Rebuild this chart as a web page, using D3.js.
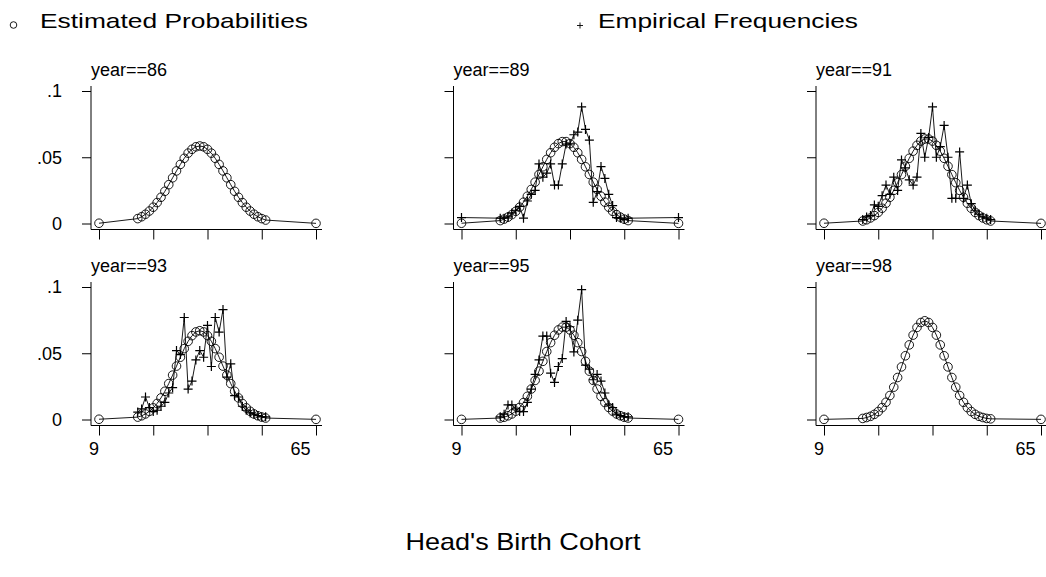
<!DOCTYPE html>
<html>
<head>
<meta charset="utf-8">
<script src="https://cdn.jsdelivr.net/npm/d3@7"></script>
<style>
  body { margin: 0; background: #fff; }
  text { font-family: Arial, "Liberation Sans", sans-serif; fill: #000; }
</style>
</head>
<body>
<svg id="chart" width="1046" height="577"></svg>
<script>
// Head's birth cohort (x) -- end points 9 and 65 are the pooled tails
const cohorts = [9, 19, 20, 21, 22, 23, 24, 25, 26, 27, 28, 29, 30, 31, 32, 33, 34, 35,
  36, 37, 38, 39, 40, 41, 42, 43, 44, 45, 46, 47, 48, 49, 50, 51, 52, 65];

const years = [86, 89, 91, 93, 95, 98];

// estimated probabilities, one list per survey year
const est86 = [0.0002, .0037, .0051, .0070, .0094, .0123, .0158, .0198, .0243, .0293, .0345, .0397, .0446, .0492, .0531, .0560, .0579, .0585,
  .0579, .0560, .0531, .0492, .0446, .0397, .0345, .0293, .0243, .0198, .0158, .0123, .0094, .0070, .0051, .0037, .0026, 0.0001];
const est89 = [0.0002, .0022, .0033, .0048, .0067, .0092, .0123, .0161, .0206, .0257, .0312, .0370, .0428, .0484, .0534, .0575, .0603, .0618,
  .0618, .0603, .0575, .0534, .0484, .0428, .0370, .0312, .0257, .0206, .0161, .0123, .0092, .0067, .0048, .0033, .0022, 0.0001];
const est91 = [0.0002, .0019, .0028, .0042, .0060, .0084, .0115, .0153, .0198, .0250, .0308, .0369, .0432, .0492, .0546, .0590, .0622, .0638,
  .0638, .0622, .0590, .0546, .0492, .0432, .0369, .0308, .0250, .0198, .0153, .0115, .0084, .0060, .0042, .0028, .0019, 0.0001];
const est93 = [0.0002, .0018, .0028, .0042, .0062, .0088, .0121, .0163, .0213, .0271, .0335, .0403, .0470, .0535, .0590, .0633, .0661, .0670,
  .0661, .0633, .0590, .0535, .0470, .0403, .0335, .0271, .0213, .0163, .0121, .0088, .0062, .0042, .0028, .0018, .0011, 0.0001];
const est95 = [0.0001, .0011, .0017, .0028, .0042, .0063, .0091, .0128, .0175, .0230, .0295, .0365, .0439, .0513, .0580, .0636, .0676, .0697,
  .0697, .0676, .0636, .0580, .0513, .0439, .0365, .0295, .0230, .0175, .0128, .0091, .0063, .0042, .0028, .0017, .0011, 0.0001];
const est98 = [0.0001, .0008, .0015, .0024, .0039, .0060, .0090, .0130, .0181, .0244, .0317, .0397, .0481, .0563, .0637, .0695, .0732, .0745,
  .0732, .0695, .0637, .0563, .0481, .0397, .0317, .0244, .0181, .0130, .0090, .0060, .0039, .0024, .0015, .0008, .0005, 0.0001];

// empirical frequencies (null = not observed)
const emp89 = [0.0045, .004, .004, .005, .008, .010, .013, .004, .017, .022, .025, .045, .035, .038, .045, .029, .029, .045,
  .060, .060, .067, .069, .088, .071, .063, .016, .024, .043, .034, .022, .0135, .0045, .004, .003, .004, 0.0045];
const emp91 = [null, .003, .005, .006, .014, .013, .021, .029, .022, .035, .025, .048, .042, .033, .029, .035, .068, .050,
  .065, .088, .050, .058, .074, .050, .019, .019, .054, .019, .029, .015, .010, .007, .005, .004, .003, null];
const emp93 = [null, .0056, .008, .017, .009, .006, .007, .010, .013, .020, .024, .052, .049, .077, .023, .029, .045, .052,
  .047, .071, .040, .077, .066, .083, .032, .042, .018, .017, .010, .007, .005, .004, .003, .002, .002, null];
const emp95 = [null, .002, .004, .011, .011, .008, .006, .006, .013, .023, .034, .045, .063, .063, .035, .028, .040, .046,
  .074, .070, .051, .075, .098, .041, .038, .030, .034, .029, .020, .011, .009, .004, .003, .002, .002, null];

const estimated = [est86, est89, est91, est93, est95, est98];
const empirical = [null, emp89, emp91, emp93, emp95, null];

const xTicks = [9, 23, 37, 51, 65];
const xTickLabels = ['9', '', '', '', '65'];
const yTicks = [0, 0.05, 0.1];
const yTickLabels = ['0', '.05', '.1'];

const svg = d3.select('#chart');

// legend
svg.append('circle').attr('cx', 13.5).attr('cy', 25).attr('r', 3.3)
  .style('fill', 'none').style('stroke', '#000').style('stroke-width', 0.9);
svg.append('text').attr('x', 40).attr('y', 28).style('font-size', '21px')
  .attr('textLength', 268).attr('lengthAdjust', 'spacingAndGlyphs')
  .text('Estimated Probabilities');
svg.append('path').attr('d', 'M577,25.5h6M580,22.5v6')
  .style('stroke', '#000').style('stroke-width', 0.9);
svg.append('text').attr('x', 598).attr('y', 28).style('font-size', '21px')
  .attr('textLength', 260).attr('lengthAdjust', 'spacingAndGlyphs')
  .text('Empirical Frequencies');

const colOffset = [0, 362.5, 725];
const rowOffset = [0, 196];

years.forEach((yr, i) => {
  const col = i % 3, row = Math.floor(i / 3);
  const x = d3.scaleLinear().domain([9, 65]).range([99 + colOffset[col], 316 + colOffset[col]]);
  const y = d3.scaleLinear().domain([0, 0.1]).range([223.5 + rowOffset[row], 91 + rowOffset[row]]);

  const g = svg.append('g');
  const axisX0 = x(9) - 8;   // y-axis line sits a bit left of the first point
  const axisY0 = y(0) + 6;   // x-axis line sits a bit below zero

  // panel title
  g.append('text').attr('x', axisX0).attr('y', y(0) - 147.5)
    .style('font-size', '18px').text('year==' + yr);

  // y axis
  const yAxis = d3.axisLeft(y).tickValues(yTicks).tickSize(9).tickSizeOuter(0).tickPadding(20)
    .tickFormat((d, k) => col === 0 ? yTickLabels[k] : '');
  const gy = g.append('g').attr('transform', `translate(${axisX0},0)`).call(yAxis);
  gy.select('.domain').remove();
  gy.selectAll('text').style('font-size', '18px').style('font-family', 'Arial, "Liberation Sans", sans-serif');
  g.append('line').attr('x1', axisX0).attr('x2', axisX0)
    .attr('y1', y(0.1) - 5).attr('y2', axisY0).style('stroke', '#000');

  // x axis
  const xAxis = d3.axisBottom(x).tickValues(xTicks).tickSize(10).tickSizeOuter(0).tickPadding(7)
    .tickFormat((d, k) => row === 1 ? xTickLabels[k] : '');
  const gx = g.append('g').attr('transform', `translate(0,${axisY0})`).call(xAxis);
  gx.select('.domain').remove();
  gx.selectAll('text').style('font-size', '18px').style('font-family', 'Arial, "Liberation Sans", sans-serif')
    .attr('dx', d => d === 9 ? -5.5 : -16);
  g.append('line').attr('x1', axisX0).attr('x2', x(65) + 6)
    .attr('y1', axisY0).attr('y2', axisY0).style('stroke', '#000');

  const line = d3.line().defined(d => d[1] != null).x(d => x(d[0])).y(d => y(d[1]));

  // estimated probabilities
  const est = cohorts.map((c, k) => [c, estimated[i][k]]);
  g.append('path').datum(est).attr('d', line)
    .style('fill', 'none').style('stroke', '#000').style('stroke-width', 0.9);
  g.selectAll('.est').data(est).enter().append('circle').attr('class', 'est')
    .attr('cx', d => x(d[0])).attr('cy', d => y(d[1])).attr('r', 4.3)
    .style('fill', 'none').style('stroke', '#000').style('stroke-width', 0.9);

  // empirical frequencies
  if (empirical[i]) {
    const emp = cohorts.map((c, k) => [c, empirical[i][k]]);
    g.append('path').datum(emp).attr('d', line)
      .style('fill', 'none').style('stroke', '#000').style('stroke-width', 0.9);
    g.selectAll('.emp').data(emp.filter(d => d[1] != null)).enter().append('path').attr('class', 'emp')
      .attr('d', d => `M${x(d[0]) - 4.5},${y(d[1])}h9M${x(d[0])},${y(d[1]) - 4.5}v9`)
      .style('stroke', '#000').style('stroke-width', 1.2);
  }
});

// x axis title
svg.append('text').attr('x', 523).attr('y', 550).attr('text-anchor', 'middle')
  .style('font-size', '24px').attr('textLength', 235).attr('lengthAdjust', 'spacingAndGlyphs')
  .text("Head's Birth Cohort");
</script>
</body>
</html>
